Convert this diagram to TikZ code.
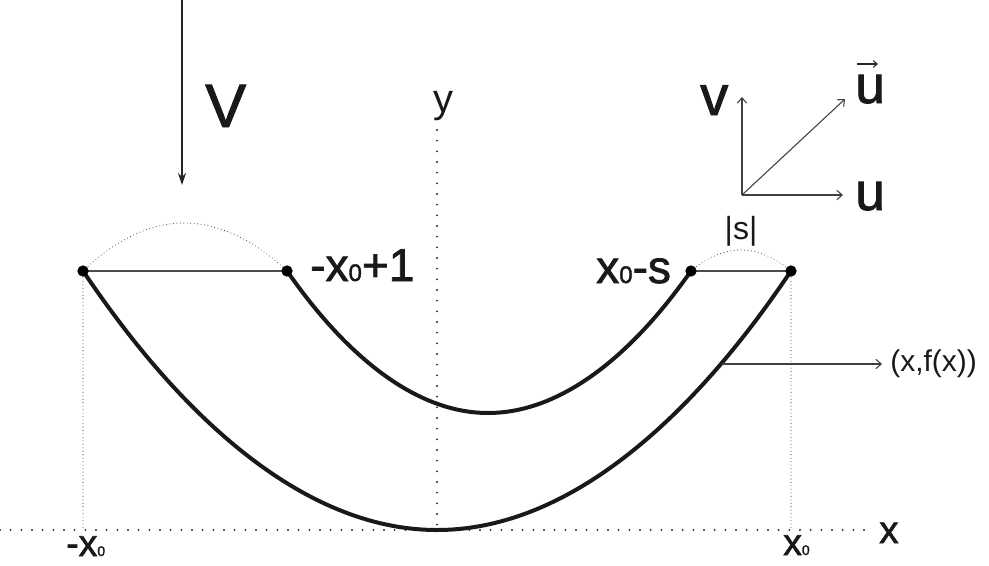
\documentclass[tikz,border=0pt]{standalone}
\usepackage{fontspec}
\setmainfont{Liberation Sans}
\newfontfamily\heavyfont[FakeBold=1.6]{Liberation Sans}
\usetikzlibrary{arrows.meta,calc}
\newcommand\smz[1]{{\fontsize{#1}{#1}\selectfont 0}}
\begin{document}
\begin{tikzpicture}[x=0.75pt,y=-0.75pt,
  curve/.style={line width=3pt, black!90},
  chord/.style={line width=1pt, black!70},
  dotax/.style={line width=1.6pt, line cap=round, dash pattern=on 0pt off 8pt, black!85},
  dotfine/.style={line width=0.8pt, line cap=round, dash pattern=on 0pt off 2.6pt, black!70},
  vecarrow/.style={line width=0.8pt, black!75, -{Straight Barb[length=4pt,width=7pt]}},
  pt/.style={circle, fill=black, inner sep=0pt, minimum size=8.5pt},
  lbl/.style={inner sep=0pt, anchor=base west, text=black!90},
]
\useasboundingbox (0,0) rectangle (989,565);
% key coordinates
\coordinate (a) at (83,271);
\coordinate (b) at (287,271);
\coordinate (c) at (691,271);
\coordinate (d) at (791,271);
\coordinate (Vo) at (437,530);
\coordinate (Vi) at (488,413);
\coordinate (xs) at (0,530);
\coordinate (xe) at (865,530);
\coordinate (ys) at (437,130);
\coordinate (xl) at (83,530);
\coordinate (xr) at (791,530);
\coordinate (pk1) at (184,223);
\coordinate (pk2) at (741,250);
% axes
\draw[dotax] (xs) -- (xe);
\draw[dotax] (ys) -- (Vo);
\draw[dotfine] (a) -- (xl);
\draw[dotfine] (d) -- (xr);
% arcs
\draw[dotfine] (a) parabola bend (pk1) (b);
\draw[dotfine] (c) parabola bend (pk2) (d);
% chords
\draw[chord] (a) -- (b);
\draw[chord] (c) -- (d);
% parabolas
\draw[curve] (a) parabola bend (Vo) (d);
\draw[curve] (b) parabola bend (Vi) (c);
% points
\node[pt] (A) at (a) {};
\node[pt] (B) at (b) {};
\node[pt] (C) at (c) {};
\node[pt] (D) at (d) {};
% V arrow
\coordinate (vt) at (182,0);
\coordinate (vb) at (182,185);
\draw[line width=1pt, black!85, -{Stealth[length=9pt,width=6pt]}] (vt) -- (vb);
\node[lbl, font=\heavyfont\fontsize{46}{50}\selectfont] (Vlab) at (205,127) {V};
% top-right axes
\coordinate (O) at (742,195);
\coordinate (Ov) at (742,97);
\coordinate (Ou) at (843,195);
\coordinate (Od) at (845,99);
\draw[vecarrow] (O) -- (Ov);
\draw[vecarrow] (O) -- (Ou);
\draw[vecarrow] (O) -- (Od);
\node[lbl, font=\heavyfont\fontsize{42}{46}\selectfont] (vlab) at (700,115) {v};
\node[lbl, font=\heavyfont\fontsize{40}{44}\selectfont] (ulab) at (855,210) {u};
\node[lbl, font=\heavyfont\fontsize{40}{44}\selectfont] (uvlab) at (855,103) {u};
\draw[line width=0.8pt, black!85, -{Straight Barb[length=3pt,width=5pt]}] ($(uvlab.base west)+(2,-39)$) -- ($(uvlab.base west)+(23,-39)$);
% pointer
\coordinate (P) at (722,364);
\coordinate (Pe) at (882,364);
\draw[vecarrow] (P) -- (Pe);
\node[inner sep=0pt, anchor=west, font=\fontsize{22.5}{26}\selectfont, text=black!90] (flab) at (890,364) {(x,f(x))};
% labels
\node[lbl, font=\heavyfont\fontsize{34.5}{40}\selectfont] (l1) at (310,281) {-x\smz{18}+1};
\node[lbl, font=\heavyfont\fontsize{34.5}{40}\selectfont] (l2) at (596,283) {x\smz{18}-s};
\node[inner sep=0pt, font=\fontsize{24}{28}\selectfont, text=black!90] (slab) at (741,231) {|s|};
\node[lbl, font=\fontsize{30}{34}\selectfont] (ylab) at (433,112) {y};
\node[lbl, font=\heavyfont\fontsize{29}{34}\selectfont] (xlab) at (879,543) {x};
\node[lbl, font=\heavyfont\fontsize{28}{32}\selectfont] (mx0) at (66,556) {-x\smz{10.5}};
\node[lbl, font=\heavyfont\fontsize{28}{32}\selectfont] (px0) at (783,555) {x\smz{10.5}};
\end{tikzpicture}
\end{document}
